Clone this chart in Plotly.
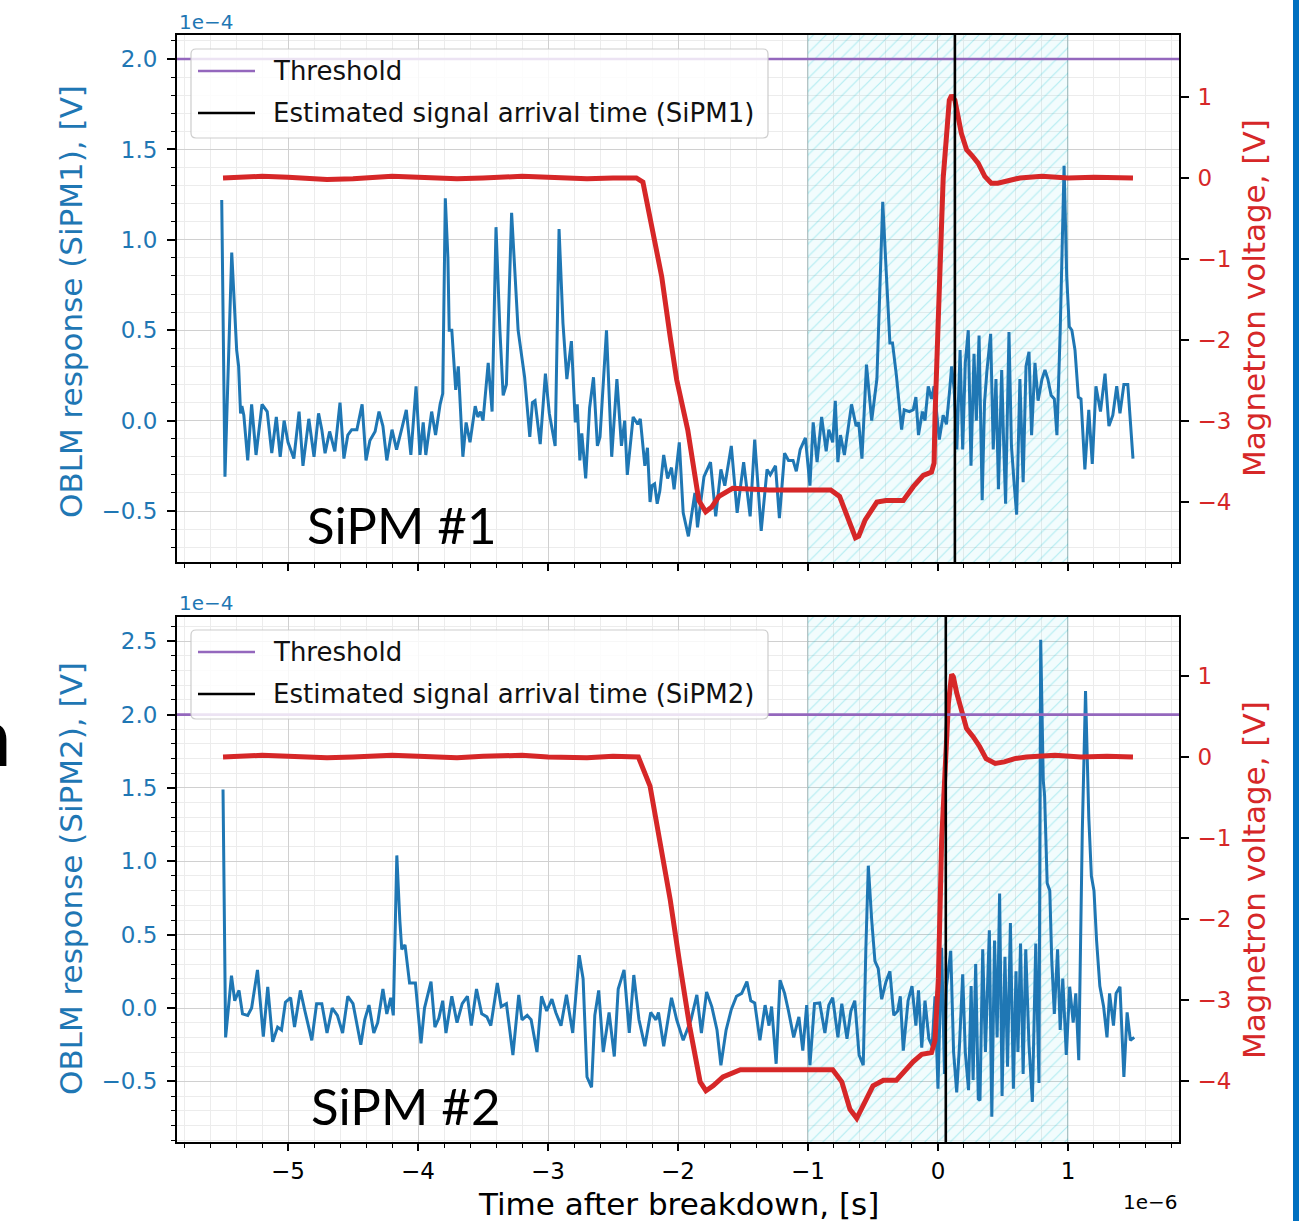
import plotly.graph_objects as go

W, H = 1303, 1221

# time after breakdown in microseconds (axis shows 1e-6 s)
# OBLM response in 1e-4 V, magnetron voltage in V
t_sipm1 = [-5.51, -5.485, -5.433, -5.41, -5.395, -5.38, -5.365, -5.355, -5.34, -5.31,
           -5.28, -5.246, -5.20, -5.16, -5.125, -5.09, -5.06, -5.03, -5.00, -4.955,
           -4.915, -4.885, -4.84, -4.80, -4.765, -4.74, -4.715, -4.68, -4.64, -4.60,
           -4.57, -4.54, -4.51, -4.47, -4.43, -4.40, -4.37, -4.33, -4.30, -4.27,
           -4.24, -4.20, -4.165, -4.12, -4.09, -4.055, -4.015, -3.985, -3.96, -3.94,
           -3.895, -3.865, -3.83, -3.81, -3.79, -3.77, -3.76, -3.74, -3.71, -3.69,
           -3.655, -3.63, -3.60, -3.56, -3.54, -3.52, -3.50, -3.46, -3.43, -3.40,
           -3.37, -3.345, -3.32, -3.28, -3.23, -3.18, -3.14, -3.12, -3.10, -3.06,
           -3.02, -2.99, -2.945, -2.915, -2.885, -2.855, -2.82, -2.79, -2.775, -2.755,
           -2.74, -2.71, -2.68, -2.65, -2.62, -2.60, -2.55, -2.51, -2.47, -2.435,
           -2.41, -2.39, -2.345, -2.31, -2.29, -2.255, -2.235, -2.215, -2.20, -2.18,
           -2.16, -2.14, -2.11, -2.08, -2.05, -2.03, -1.99, -1.96, -1.92, -1.87,
           -1.85, -1.80, -1.75, -1.71, -1.67, -1.64, -1.59, -1.545, -1.495, -1.445,
           -1.41, -1.36, -1.315, -1.29, -1.25, -1.22, -1.18, -1.15, -1.115, -1.09,
           -1.06, -1.02, -0.985, -0.96, -0.93, -0.895, -0.86, -0.84, -0.81, -0.79,
           -0.77, -0.75, -0.72, -0.665, -0.63, -0.61, -0.585, -0.55, -0.51, -0.47,
           -0.425, -0.40, -0.37, -0.35, -0.32, -0.28, -0.26, -0.22, -0.19, -0.17,
           -0.15, -0.12, -0.10, -0.075, -0.05, -0.03, -0.01, 0.01, 0.04, 0.065,
           0.09, 0.105, 0.125, 0.145, 0.17, 0.19, 0.21, 0.233, 0.254, 0.277,
           0.295, 0.316, 0.34, 0.358, 0.377, 0.405, 0.425, 0.446, 0.465, 0.49,
           0.505, 0.52, 0.546, 0.565, 0.585, 0.605, 0.63, 0.655, 0.677, 0.70,
           0.72, 0.746, 0.77, 0.80, 0.823, 0.845, 0.87, 0.895, 0.915, 0.94,
           0.97, 0.99, 1.01, 1.03, 1.054, 1.08, 1.10, 1.13, 1.16, 1.187,
           1.215, 1.25, 1.285, 1.315, 1.345, 1.375, 1.40, 1.43, 1.46, 1.50]
v_sipm1 = [1.22, -0.31, 0.93, 0.60, 0.39, 0.30, 0.04, 0.08, 0.03, -0.22,
           0.09, -0.19, 0.09, 0.05, -0.18, 0.02, -0.20, 0.00, -0.12, -0.21,
           0.05, -0.25, 0.01, -0.20, 0.04, -0.05, -0.18, -0.06, -0.17, 0.10,
           -0.21, -0.08, -0.05, -0.05, 0.09, -0.22, -0.11, -0.06, 0.05, -0.03,
           -0.22, -0.05, -0.16, -0.03, 0.06, -0.19, 0.19, -0.19, -0.01, -0.19,
           0.05, -0.08, 0.09, 0.15, 1.23, 0.90, 0.50, 0.50, 0.17, 0.30,
           -0.20, -0.01, -0.12, 0.08, 0.02, 0.05, 0.00, 0.32, 0.05, 1.07,
           0.50, 0.14, 0.20, 1.15, 0.50, 0.24, -0.09, 0.10, 0.11, -0.13,
           0.26, 0.04, -0.14, 1.06, 0.54, 0.23, 0.44, -0.01, 0.09, -0.22,
           -0.07, -0.32, 0.07, 0.24, -0.14, -0.09, 0.50, -0.20, 0.23, -0.14,
           0.00, -0.30, 0.02, -0.02, 0.01, -0.25, -0.15, -0.45, -0.36, -0.35,
           -0.46, -0.39, -0.19, -0.32, -0.26, -0.38, -0.12, -0.51, -0.64, -0.40,
           -0.59, -0.31, -0.23, -0.53, -0.27, -0.36, -0.14, -0.51, -0.23, -0.53,
           -0.105, -0.61, -0.27, -0.30, -0.25, -0.54, -0.18, -0.22, -0.22, -0.28,
           -0.16, -0.095, -0.36, -0.01, -0.23, 0.02, -0.17, -0.05, -0.12, 0.11,
           -0.23, -0.08, -0.19, 0.09, -0.03, -0.01, -0.21, 0.31, 0.00, 0.23,
           1.21, 0.85, 0.43, 0.43, 0.25, -0.05, 0.06, 0.05, 0.06, 0.13,
           -0.08, 0.05, 0.00, 0.19, 0.12, 0.19, 0.05, -0.105, 0.03, -0.02,
           0.17, 0.30, 0.17, -0.16, 0.39, -0.16, 0.32, 0.50, -0.25, 0.37,
           0.00, 0.47, -0.44, 0.10, 0.28, 0.48, -0.16, 0.23, -0.38, 0.28,
           -0.12, -0.46, 0.49, -0.14, -0.34, -0.52, 0.23, -0.34, 0.30, 0.38,
           -0.08, 0.32, 0.11, 0.23, 0.28, 0.23, 0.14, 0.12, -0.08, 0.49,
           1.41, 0.80, 0.52, 0.50, 0.39, 0.13, 0.12, -0.27, 0.06, -0.24,
           0.19, 0.05, 0.26, -0.03, 0.03, 0.19, 0.04, 0.20, 0.20, -0.21]

t_sipm2 = [-5.50, -5.48, -5.435, -5.41, -5.377, -5.35, -5.31, -5.28, -5.235, -5.19,
           -5.156, -5.118, -5.08, -5.05, -5.02, -4.98, -4.95, -4.905, -4.87, -4.817,
           -4.78, -4.74, -4.70, -4.66, -4.62, -4.58, -4.54, -4.50, -4.44, -4.41,
           -4.377, -4.34, -4.31, -4.27, -4.24, -4.21, -4.19, -4.163, -4.14, -4.125,
           -4.10, -4.065, -4.02, -3.977, -3.95, -3.90, -3.87, -3.84, -3.81, -3.785,
           -3.74, -3.70, -3.66, -3.62, -3.59, -3.55, -3.51, -3.47, -3.44, -3.39,
           -3.36, -3.32, -3.27, -3.225, -3.20, -3.16, -3.13, -3.085, -3.05, -3.01,
           -2.97, -2.94, -2.90, -2.858, -2.81, -2.76, -2.73, -2.70, -2.665, -2.64,
           -2.61, -2.575, -2.53, -2.49, -2.46, -2.415, -2.375, -2.34, -2.30, -2.255,
           -2.21, -2.17, -2.15, -2.11, -2.05, -2.01, -1.96, -1.90, -1.855, -1.82,
           -1.78, -1.74, -1.70, -1.67, -1.63, -1.59, -1.55, -1.51, -1.47, -1.44,
           -1.41, -1.37, -1.33, -1.30, -1.28, -1.245, -1.215, -1.18, -1.15, -1.11,
           -1.07, -1.04, -1.01, -0.985, -0.95, -0.91, -0.87, -0.84, -0.81, -0.77,
           -0.74, -0.70, -0.67, -0.64, -0.607, -0.575, -0.555, -0.536, -0.51, -0.485,
           -0.46, -0.433, -0.40, -0.37, -0.34, -0.31, -0.29, -0.267, -0.23, -0.20,
           -0.17, -0.15, -0.125, -0.10, -0.07, -0.045, -0.023, 0.0, 0.028, 0.05,
           0.065, 0.08, 0.098, 0.12, 0.144, 0.165, 0.19, 0.21, 0.235, 0.255,
           0.27, 0.29, 0.31, 0.323, 0.344, 0.365, 0.395, 0.414, 0.435, 0.455,
           0.474, 0.493, 0.515, 0.535, 0.557, 0.58, 0.60, 0.615, 0.635, 0.655,
           0.675, 0.70, 0.726, 0.752, 0.777, 0.79, 0.81, 0.82, 0.84, 0.86,
           0.875, 0.895, 0.92, 0.94, 0.96, 0.987, 1.013, 1.04, 1.06, 1.083,
           1.11, 1.135, 1.16, 1.18, 1.20, 1.22, 1.245, 1.274, 1.30, 1.32,
           1.35, 1.37, 1.40, 1.43, 1.455, 1.48, 1.51]
v_sipm2 = [1.49, -0.20, 0.22, 0.05, 0.12, -0.04, -0.05, 0.00, 0.26, -0.195,
           0.145, -0.23, -0.13, -0.15, 0.04, 0.07, -0.13, 0.12, -0.02, -0.22,
           0.03, 0.03, -0.17, 0.00, -0.05, -0.17, 0.08, 0.03, -0.25, -0.08,
           0.02, -0.17, -0.10, 0.13, -0.04, 0.07, -0.05, 1.04, 0.60, 0.40,
           0.43, 0.17, 0.17, -0.24, 0.00, 0.18, -0.13, -0.07, 0.05, -0.17,
           0.08, -0.10, 0.03, 0.08, -0.12, 0.13, -0.04, -0.06, -0.12, 0.17,
           0.01, 0.03, -0.32, 0.09, -0.08, -0.05, -0.08, -0.30, 0.08, -0.02,
           0.06, -0.03, -0.12, 0.09, -0.17, 0.36, 0.20, -0.47, -0.54, -0.05,
           0.12, -0.30, -0.03, -0.33, 0.13, 0.26, -0.17, 0.225, -0.08, -0.26,
           -0.03, -0.08, -0.03, -0.26, 0.07, -0.08, -0.22, -0.08, 0.09, -0.17,
           0.11, 0.01, -0.15, -0.39, -0.15, -0.01, 0.08, 0.10, 0.18, 0.05,
           0.035, -0.22, 0.02, -0.12, 0.01, -0.38, 0.19, 0.10, -0.02, -0.20,
           -0.06, -0.29, 0.02, -0.39, 0.03, 0.035, -0.17, 0.02, 0.07, -0.20,
           0.03, -0.21, -0.02, 0.05, -0.32, -0.39, 0.40, 0.97, 0.60, 0.32,
           0.27, 0.06, 0.18, 0.25, -0.05, -0.02, 0.08, -0.29, 0.05, 0.15,
           -0.12, 0.12, -0.27, 0.05, -0.21, -0.26, 0.08, -0.55, 0.41, -0.45,
           0.15, 0.25, 0.39, -0.30, -0.575, -0.26, 0.23, -0.30, -0.56, 0.15,
           -0.49, 0.30, -0.62, -0.63, 0.40, -0.30, 0.53, -0.74, 0.46, -0.20,
           0.78, -0.60, 0.35, -0.40, 0.58, -0.55, 0.25, -0.30, 0.44, -0.45,
           0.40, -0.25, -0.64, 0.44, -0.51, 2.51, 1.55, 1.45, 0.85, 0.80,
           0.33, -0.04, 0.40, -0.15, 0.20, -0.32, 0.145, -0.10, 0.10, -0.355,
           1.20, 2.16, 1.30, 0.90, 0.80, 0.46, 0.15, 0.01, -0.20, 0.10,
           -0.12, 0.10, 0.145, -0.47, -0.03, -0.22, -0.20]

t_mag1 = [-5.50, -5.2, -5.0, -4.7, -4.5, -4.2, -4.0, -3.7, -3.5, -3.2,
          -3.0, -2.7, -2.5, -2.32, -2.27, -2.19,
          -2.125, -2.06, -2.01, -1.925, -1.84, -1.787, -1.74, -1.685, -1.58, -1.30,
          -1.00, -0.825, -0.757, -0.69, -0.635, -0.61, -0.56, -0.47, -0.40, -0.267,
          -0.19, -0.113, -0.05, -0.03, -0.023, 0.003, 0.023, 0.04, 0.067, 0.087,
          0.105, 0.13, 0.18, 0.22, 0.26, 0.31, 0.36, 0.41, 0.46, 0.53,
          0.63, 0.8, 1.00, 1.2, 1.50]
v_mag1 = [0.0, 0.02, 0.01, -0.02, -0.01, 0.02, 0.01, -0.01, 0.0, 0.02,
          0.01, -0.01, 0.0, 0.0, -0.05, -0.68,
          -1.22, -1.96, -2.49, -3.11, -3.98, -4.12, -4.06, -3.93, -3.83, -3.85,
          -3.85, -3.85, -3.93, -4.22, -4.44, -4.42, -4.22, -4.00, -3.98, -3.98,
          -3.81, -3.67, -3.63, -3.52, -2.95, -1.71, -0.85, 0.0, 0.55, 0.96,
          1.02, 0.96, 0.55, 0.35, 0.28, 0.18, 0.02, -0.065, -0.065, -0.04,
          0.0, 0.02, 0.0, 0.01, 0.0]

t_mag2 = [-5.50, -5.2, -5.0, -4.7, -4.5, -4.2, -4.0, -3.7, -3.5, -3.2,
          -3.0, -2.7, -2.5, -2.305, -2.215, -2.14,
          -2.06, -1.985, -1.91, -1.83, -1.785, -1.73, -1.654, -1.52, -1.2, -0.81,
          -0.74, -0.677, -0.625, -0.575, -0.50, -0.42, -0.32, -0.19, -0.125, -0.05,
          -0.023, 0.003, 0.028, 0.054, 0.08, 0.105, 0.118, 0.144, 0.18, 0.22,
          0.27, 0.32, 0.37, 0.44, 0.51, 0.59, 0.68, 0.9, 1.10, 1.3, 1.50]
v_mag2 = [0.0, 0.02, 0.01, -0.01, 0.0, 0.02, 0.01, -0.01, 0.01, 0.02,
          0.0, -0.01, 0.01, 0.0, -0.36, -1.04,
          -1.76, -2.57, -3.33, -4.01, -4.12, -4.06, -3.95, -3.86, -3.86, -3.86,
          -4.01, -4.35, -4.46, -4.31, -4.06, -3.99, -3.99, -3.76, -3.67, -3.65,
          -3.50, -2.74, -1.04, -0.19, 0.66, 1.02, 0.99, 0.79, 0.58, 0.35,
          0.25, 0.13, -0.02, -0.08, -0.06, -0.02, 0.0, 0.02, 0.0, 0.01, 0.0]

threshold = [2.0, 2.0]          # 1e-4 V, SiPM1 / SiPM2
arrival = [0.13, 0.06]          # us, SiPM1 / SiPM2
window = [-1.0, 1.0]            # us, hatched region

BLUE = "#1f77b4"
RED = "#d62728"
PURPLE = "#9467bd"
FONT = "DejaVu Sans"
MAJOR_GRID = "#d0d0d0"
MINOR_GRID = "#ececec"


def px(x):
    return x / W


def py(y):
    return 1 - y / H


def rrect(x0, y0, x1, y1, r):
    # rounded rectangle path in paper coords, given pixel corners
    pts = [
        f"M{px(x0 + r)},{py(y0)}", f"L{px(x1 - r)},{py(y0)}",
        f"Q{px(x1)},{py(y0)} {px(x1)},{py(y0 + r)}", f"L{px(x1)},{py(y1 - r)}",
        f"Q{px(x1)},{py(y1)} {px(x1 - r)},{py(y1)}", f"L{px(x0 + r)},{py(y1)}",
        f"Q{px(x0)},{py(y1)} {px(x0)},{py(y1 - r)}", f"L{px(x0)},{py(y0 + r)}",
        f"Q{px(x0)},{py(y0)} {px(x0 + r)},{py(y0)}", "Z",
    ]
    return " ".join(pts)


fig = go.Figure()

panels = [
    dict(t=t_sipm1, v=v_sipm1, tm=t_mag1, vm=v_mag1, xa="x", ya="y", ya2="y2"),
    dict(t=t_sipm2, v=v_sipm2, tm=t_mag2, vm=v_mag2, xa="x2", ya="y3", ya2="y4"),
]

for p in panels:
    # hatched window
    fig.add_trace(go.Scatter(
        x=[window[0], window[1], window[1], window[0], window[0]],
        y=[-50, -50, 50, 50, -50],
        xaxis=p["xa"], yaxis=p["ya"], mode="lines", fill="toself",
        line=dict(color="rgba(0,110,120,0.25)", width=1),
        fillcolor="rgba(0,200,210,0.05)",
        fillpattern=dict(shape="/", size=9, solidity=0.13,
                         fgcolor="rgba(0,195,210,0.26)", bgcolor="rgba(0,200,210,0.05)"),
        hoverinfo="skip", showlegend=False,
    ))
    fig.add_trace(go.Scatter(
        x=p["t"], y=p["v"], xaxis=p["xa"], yaxis=p["ya"], mode="lines",
        line=dict(color=BLUE, width=3), showlegend=False,
    ))
    fig.add_trace(go.Scatter(
        x=p["tm"], y=p["vm"], xaxis=p["xa"], yaxis=p["ya2"], mode="lines",
        line=dict(color=RED, width=5), showlegend=False,
    ))

x_range = [-5.854, 1.854]
dom_x = [px(177), px(1179)]

common_x = dict(
    range=x_range, domain=dom_x, showline=True, linecolor="black", linewidth=2,
    mirror=True, ticks="outside", ticklen=7, tickwidth=1.5, tickcolor="black",
    tick0=0, dtick=1, showgrid=True, gridcolor=MAJOR_GRID, gridwidth=1,
    zeroline=False, automargin=False,
    tickfont=dict(family=FONT, size=23, color="black"),
    minor=dict(dtick=0.2, ticks="outside", ticklen=4, tickwidth=1.2,
               tickcolor="black", showgrid=True, gridcolor=MINOR_GRID),
)
common_yl = dict(
    side="left", showline=True, linecolor="black", linewidth=2, mirror=True,
    ticks="outside", ticklen=8, tickwidth=1.5, tickcolor="black",
    tick0=0, dtick=0.5, tickformat=".1f", showgrid=True, gridcolor=MAJOR_GRID,
    gridwidth=1, zeroline=False, automargin=False, ticklabelstandoff=5,
    tickfont=dict(family=FONT, size=23, color=BLUE),
    minor=dict(dtick=0.1, ticks="outside", ticklen=4, tickwidth=1.2,
               tickcolor="black", showgrid=True, gridcolor=MINOR_GRID),
)
common_yr = dict(
    side="right", showline=True, linecolor="black", linewidth=2,
    ticks="outside", ticklen=8, tickwidth=1.5, tickcolor="black",
    tick0=0, dtick=1, showgrid=False, zeroline=False, automargin=False,
    ticklabelstandoff=4,
    tickfont=dict(family=FONT, size=23, color=RED),
)

fig.update_layout(
    width=W, height=H, margin=dict(l=0, r=0, t=0, b=0),
    paper_bgcolor="white", plot_bgcolor="white", template="none",
    showlegend=False,
    xaxis=dict(common_x, anchor="y", showticklabels=False),
    xaxis2=dict(common_x, anchor="y3", matches="x", showticklabels=True),
    yaxis=dict(common_yl, anchor="x", domain=[py(562), py(35)], range=[-0.782, 2.133]),
    yaxis2=dict(common_yr, anchor="x", overlaying="y", range=[-4.74, 1.765]),
    yaxis3=dict(common_yl, anchor="x2", domain=[py(1142), py(617)], range=[-0.913, 2.665]),
    yaxis4=dict(common_yr, anchor="x2", overlaying="y3", range=[-4.753, 1.728]),
)

shapes = []
annotations = []

legend_tops = [49, 630]
labels = ["SiPM1", "SiPM2"]
for i, (xa, ya) in enumerate([("x", "y"), ("x2", "y3")]):
    shapes.append(dict(type="line", xref=f"{xa} domain", yref=ya, x0=0, x1=1,
                       y0=threshold[i], y1=threshold[i], layer="above",
                       line=dict(color=PURPLE, width=2.6)))
    shapes.append(dict(type="line", xref=xa, yref=f"{ya} domain", x0=arrival[i],
                       x1=arrival[i], y0=0, y1=1, layer="above",
                       line=dict(color="black", width=2.6)))
    top = legend_tops[i]
    shapes.append(dict(type="path", xref="paper", yref="paper", layer="above",
                       path=rrect(191, top, 768, top + 89, 5),
                       fillcolor="rgba(255,255,255,0.82)",
                       line=dict(color="rgba(200,200,200,0.9)", width=1.2)))
    for j, (col, txt) in enumerate([(PURPLE, "Threshold"),
                                    ("black", f"Estimated signal arrival time ({labels[i]})")]):
        yy = top + 22 + j * 42
        shapes.append(dict(type="line", xref="paper", yref="paper", layer="above",
                           x0=px(198), x1=px(255), y0=py(yy), y1=py(yy),
                           line=dict(color=col, width=2.6)))
        annotations.append(dict(text=txt, xref="paper", yref="paper", x=px(271), y=py(yy),
                                xanchor="left", yanchor="middle", showarrow=False,
                                font=dict(family=FONT, size=26, color="#111111")))

# blue strip at the right edge of the slide
shapes.append(dict(type="rect", xref="paper", yref="paper", x0=px(1293), x1=px(1299),
                   y0=0, y1=1, fillcolor="#0070c0", line=dict(width=0), layer="above"))

# axis titles
for txt, x, y, col in [("OBLM response (SiPM1), [V]", 71, 302, BLUE),
                       ("OBLM response (SiPM2), [V]", 71, 879, BLUE),
                       ("Magnetron voltage, [V]", 1254, 298, RED),
                       ("Magnetron voltage, [V]", 1254, 880, RED)]:
    annotations.append(dict(text=txt, xref="paper", yref="paper", x=px(x), y=py(y),
                            xanchor="center", yanchor="middle", textangle=-90,
                            showarrow=False, font=dict(family=FONT, size=31, color=col)))
annotations.append(dict(text="Time after breakdown, [s]", xref="paper", yref="paper",
                        x=px(678), y=py(1204), xanchor="center", yanchor="middle",
                        showarrow=False, font=dict(family=FONT, size=31, color="black")))

# offset texts
for txt, x, y, anc, col in [("1e\u22124", 177, 22, "left", BLUE),
                            ("1e\u22124", 177, 603, "left", BLUE),
                            ("1e\u22126", 1180, 1202, "right", "black")]:
    annotations.append(dict(text=txt, xref="paper", yref="paper", x=px(x), y=py(y),
                            xanchor=anc, yanchor="middle", showarrow=False,
                            font=dict(family=FONT, size=20, color=col)))

# slide overlay labels
annotations.append(dict(text="SiPM #1", xref="paper", yref="paper", x=px(305), y=py(524),
                        xanchor="left", yanchor="middle", showarrow=False,
                        font=dict(family="Lato", size=51, color="black")))
annotations.append(dict(text="SiPM #2", xref="paper", yref="paper", x=px(309), y=py(1105),
                        xanchor="left", yanchor="middle", showarrow=False,
                        font=dict(family="Lato", size=51, color="black")))
annotations.append(dict(text="n", xref="paper", yref="paper", x=px(14), y=py(733),
                        xanchor="right", yanchor="middle", showarrow=False,
                        font=dict(family="Lato", size=84, color="black")))

fig.update_layout(shapes=shapes, annotations=annotations)

# page body has a default 8px margin; drop it so the figure sits at the window corner
fig.write_html("out.html", config={"displayModeBar": False},
               post_script="document.body.style.margin='0px';")
